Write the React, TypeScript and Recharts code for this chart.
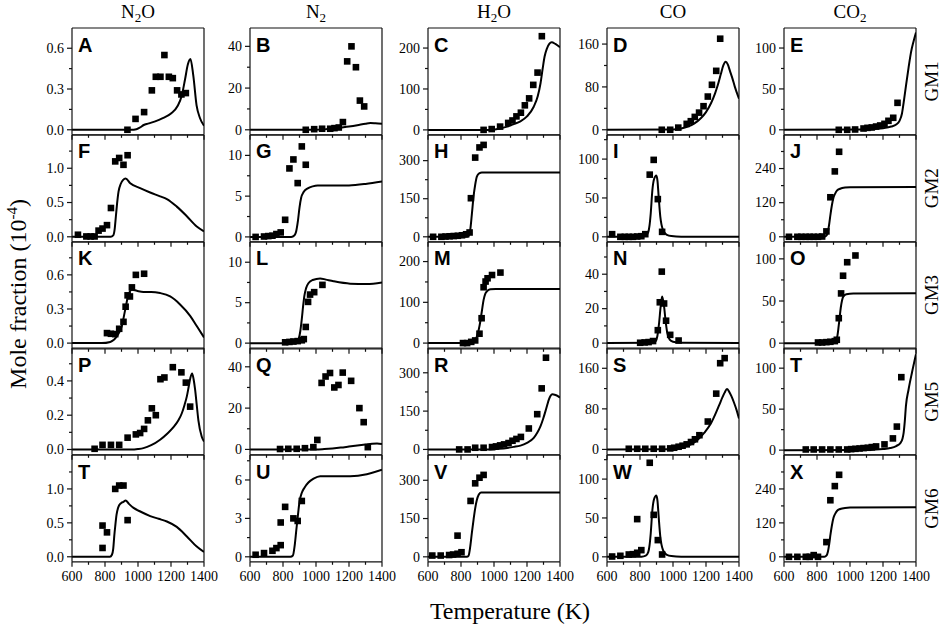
import React from 'react'
import { ComposedChart, Line, Scatter, XAxis, YAxis, ReferenceLine } from 'recharts'

type Pair = [number, number]

// column titles, row labels, x ticks
const species = ['N2O', 'N2', 'H2O', 'CO', 'CO2']
const mechanisms = ['GM1', 'GM2', 'GM3', 'GM5', 'GM6']
const xMajor = [600, 800, 1000, 1200, 1400]
const xMinor = [700, 900, 1100, 1300]

// ---- GM1 ----
const ptsA: Pair[] = [[936, 0], [985, 0.08], [1037, 0.13], [1084, 0.29], [1108, 0.39], [1136, 0.39], [1160, 0.55], [1187, 0.39], [1211, 0.38], [1237, 0.29], [1263, 0.26], [1290, 0.27]]
const lineA: Pair[] = [[600, 0], [960, 0], [990, 0.004], [1010, 0.015], [1035, 0.035], [1060, 0.045], [1100, 0.06], [1150, 0.085], [1200, 0.12], [1240, 0.175], [1265, 0.25], [1285, 0.37], [1302, 0.48], [1318, 0.52], [1335, 0.4], [1355, 0.18], [1376, 0.085], [1400, 0.03]]
const ptsB: Pair[] = [[938, 0], [989, 0.3], [1037, 0.5], [1086, 0.5], [1112, 0.8], [1138, 1.1], [1163, 3.7], [1189, 32.8], [1215, 40], [1242, 30], [1266, 14], [1292, 11.2]]
const lineB: Pair[] = [[600, 0], [1000, 0], [1050, 0.2], [1100, 0.6], [1150, 1.1], [1200, 1.6], [1250, 2.2], [1300, 2.9], [1330, 3.2], [1360, 3.1], [1400, 2.9]]
const ptsC: Pair[] = [[937, 0], [986, 2], [1037, 8], [1086, 17], [1112, 23], [1136, 33], [1163, 42], [1187, 60], [1213, 77], [1238, 110], [1264, 140], [1290, 229]]
const lineC: Pair[] = [[600, 0], [980, 0], [1030, 3], [1080, 8], [1120, 14], [1160, 21], [1200, 33], [1240, 56], [1265, 82], [1282, 114], [1295, 150], [1307, 180], [1320, 198], [1335, 210], [1350, 214], [1372, 210], [1400, 202]]
const ptsD: Pair[] = [[932, 0], [983, 0], [1032, 4], [1083, 11], [1108, 16], [1132, 24], [1158, 32], [1185, 44], [1211, 62], [1236, 84], [1262, 110], [1286, 170]]
const lineD: Pair[] = [[600, 0], [1000, 0.5], [1050, 2.5], [1090, 6], [1130, 12], [1170, 22], [1200, 33], [1231, 50], [1255, 68], [1272, 84], [1290, 104], [1305, 120], [1319, 127], [1332, 122], [1345, 110], [1360, 96], [1375, 80], [1400, 58]]
const ptsE: Pair[] = [[932, 0], [983, 0], [1031, 0.4], [1082, 1.6], [1106, 2.4], [1132, 2.9], [1158, 4], [1183, 5.3], [1209, 7.3], [1233, 11], [1262, 14.7], [1288, 33]]
const lineE: Pair[] = [[600, 0], [1100, 0.3], [1150, 1], [1200, 2], [1250, 4], [1280, 6.5], [1300, 11], [1315, 20], [1325, 33], [1340, 55], [1355, 76], [1370, 95], [1385, 108], [1400, 119]]

// ---- GM2 ----
const ptsF: Pair[] = [[636, 0.03], [687, 0.005], [713, 0.005], [737, 0.005], [761, 0.09], [785, 0.12], [812, 0.17], [836, 0.42], [862, 1.1], [886, 1.15], [912, 1.05], [937, 1.19]]
const lineF: Pair[] = [[600, 0], [835, 0], [850, 0.02], [858, 0.1], [866, 0.3], [873, 0.48], [882, 0.66], [895, 0.77], [910, 0.83], [925, 0.85], [953, 0.78], [1013, 0.71], [1070, 0.65], [1134, 0.59], [1175, 0.55], [1235, 0.44], [1296, 0.3], [1356, 0.15], [1400, 0.08]]
const ptsG: Pair[] = [[634, 0], [685, 0.05], [711, 0.1], [736, 0.15], [760, 0.35], [786, 0.55], [813, 2.1], [839, 8.4], [863, 9.5], [889, 6.6], [914, 11.1], [938, 8.85]]
const lineG: Pair[] = [[600, 0], [850, 0], [870, 0.2], [880, 0.7], [890, 1.9], [900, 3.6], [910, 4.8], [925, 5.5], [950, 5.95], [980, 6.2], [1010, 6.3], [1100, 6.3], [1200, 6.32], [1300, 6.5], [1400, 6.8]]
const ptsH: Pair[] = [[631, 0], [681, 0], [706, 1], [731, 2], [756, 3], [781, 4], [806, 6], [831, 10], [852, 17], [860, 152], [886, 312], [912, 352], [937, 362]]
const lineH: Pair[] = [[600, 0], [835, 0], [846, 4], [856, 27], [866, 90], [876, 158], [886, 205], [896, 237], [910, 250], [927, 253], [1400, 253]]
const ptsI: Pair[] = [[631, 3.4], [681, 0], [708, 0], [732, 0], [757, 0], [783, 0.4], [808, 0.8], [832, 3.4], [859, 80], [883, 99], [908, 48.5], [934, 6.4]]
const lineI: Pair[] = [[600, 0], [810, 0.2], [835, 1.5], [850, 6], [858, 15], [865, 30], [875, 60], [885, 74], [899, 79], [906, 72], [913, 52], [918, 38], [923, 26], [930, 16], [939, 9], [950, 5], [963, 2.6], [990, 1], [1050, 0.2], [1400, 0]]
const ptsJ: Pair[] = [[630, 0], [681, 0], [705, 0], [732, 0], [756, 0], [780, 0], [806, 0], [831, 1], [857, 19], [881, 139], [908, 230], [934, 299]]
const lineJ: Pair[] = [[600, 0], [845, 0], [858, 5], [866, 18], [874, 45], [882, 80], [890, 110], [900, 138], [910, 152], [922, 163], [940, 169], [970, 173], [1000, 174], [1400, 175]]

// ---- GM3 ----
const ptsK: Pair[] = [[812, 0.088], [836, 0.082], [862, 0.079], [886, 0.126], [912, 0.187], [925, 0.32], [937, 0.42], [951, 0.41], [963, 0.49], [987, 0.6], [1037, 0.61]]
const lineK: Pair[] = [[600, 0], [780, 0], [832, 0.01], [872, 0.06], [902, 0.15], [922, 0.29], [943, 0.43], [963, 0.47], [993, 0.46], [1033, 0.45], [1080, 0.45], [1134, 0.44], [1195, 0.41], [1255, 0.34], [1316, 0.24], [1356, 0.15], [1400, 0.05]]
const ptsL: Pair[] = [[813, 0.1], [839, 0.15], [863, 0.2], [889, 0.25], [914, 0.35], [926, 0.5], [938, 2], [952, 5.1], [964, 6], [989, 6.3], [1039, 7.2]]
const lineL: Pair[] = [[600, 0], [870, 0], [885, 0.15], [895, 0.5], [905, 1.5], [914, 3], [922, 4.6], [930, 5.9], [940, 6.8], [954, 7.4], [980, 7.8], [1025, 8], [1060, 7.85], [1106, 7.65], [1207, 7.35], [1308, 7.3], [1400, 7.5]]
const ptsM: Pair[] = [[812, 0], [837, 0], [862, 3], [886, 6.5], [912, 23], [925, 61], [937, 137], [949, 151], [961, 159], [988, 167], [1039, 173]]
const lineM: Pair[] = [[600, 0], [860, 0], [875, 2], [887, 7], [896, 16], [907, 32], [917, 53], [927, 80], [937, 106], [947, 121], [957, 127], [978, 132], [1010, 133], [1400, 133]]
const ptsN: Pair[] = [[801, 0.2], [828, 0.4], [852, 0.6], [879, 1.2], [908, 7.5], [920, 23.7], [932, 41.5], [946, 23], [958, 13], [983, 4.8], [1034, 1.5]]
const lineN: Pair[] = [[600, 0], [880, 0.2], [895, 1], [905, 4], [915, 11], [925, 21], [934, 27], [945, 22], [955, 13], [965, 6], [980, 2], [1000, 0.8], [1050, 0.2], [1400, 0]]
const ptsO: Pair[] = [[806, 0.8], [831, 0.8], [857, 1.2], [881, 1.6], [908, 2.4], [920, 4], [932, 29.6], [946, 59], [958, 80], [983, 96], [1033, 104]]
const lineO: Pair[] = [[600, 0], [895, 0], [908, 1], [916, 3], [923, 8], [930, 18], [937, 30], [944, 42], [952, 51], [962, 56], [978, 58], [1020, 59], [1400, 59.3]]

// ---- GM5 ----
const ptsP: Pair[] = [[737, 0.004], [785, 0.027], [836, 0.027], [886, 0.027], [937, 0.069], [987, 0.088], [1013, 0.096], [1037, 0.12], [1060, 0.17], [1084, 0.24], [1108, 0.2], [1136, 0.41], [1160, 0.42], [1211, 0.48], [1263, 0.45], [1290, 0.39], [1316, 0.25]]
const lineP: Pair[] = [[600, 0], [960, 0], [1000, 0.003], [1033, 0.008], [1080, 0.025], [1134, 0.057], [1180, 0.095], [1215, 0.13], [1245, 0.17], [1265, 0.21], [1282, 0.26], [1296, 0.31], [1308, 0.37], [1318, 0.42], [1328, 0.443], [1337, 0.41], [1346, 0.35], [1356, 0.26], [1366, 0.17], [1386, 0.076], [1400, 0.047]]
const ptsQ: Pair[] = [[782, 0.2], [832, 0.3], [883, 0.3], [933, 0.6], [984, 1.1], [1008, 4.6], [1034, 32.2], [1058, 35.3], [1085, 37], [1111, 30], [1136, 31.2], [1162, 37.2], [1213, 33.2], [1263, 20], [1289, 13.2], [1314, 1.1]]
const lineQ: Pair[] = [[600, 0], [1000, 0], [1050, 0.2], [1100, 0.5], [1150, 0.9], [1200, 1.4], [1250, 1.9], [1300, 2.4], [1340, 2.8], [1370, 2.9], [1400, 2.6]]
const ptsR: Pair[] = [[789, 0], [840, 0], [886, 6.6], [937, 6.6], [988, 9.2], [1012, 11.8], [1037, 15.8], [1061, 19.7], [1088, 25], [1112, 34], [1136, 41], [1163, 49], [1211, 82], [1262, 138], [1289, 239], [1315, 359]]
const lineR: Pair[] = [[600, 0], [980, 0], [1030, 2.5], [1080, 6], [1120, 10], [1160, 15], [1200, 26], [1241, 45], [1262, 65], [1282, 91], [1298, 120], [1312, 150], [1323, 175], [1333, 196], [1343, 210], [1353, 216], [1373, 213], [1400, 203]]
const ptsS: Pair[] = [[732, 1.3], [783, 1.3], [832, 1.3], [883, 1.3], [934, 1.3], [983, 2], [1007, 3.3], [1034, 5.3], [1058, 7.3], [1083, 10], [1109, 14.6], [1133, 20], [1160, 28], [1211, 55], [1262, 110], [1286, 170], [1313, 180]]
const lineS: Pair[] = [[600, 0], [980, 0.3], [1030, 2], [1080, 6], [1115, 11], [1150, 19], [1190, 33], [1231, 52], [1260, 72], [1282, 89], [1300, 103], [1313, 112], [1327, 119], [1340, 114], [1354, 105], [1370, 92], [1384, 79], [1400, 61]]
const ptsT5: Pair[] = [[732, 0.8], [780, 0.8], [831, 0.8], [881, 0.8], [932, 0.8], [983, 0.8], [1007, 1.2], [1033, 1.6], [1058, 2], [1082, 2.5], [1108, 2.9], [1132, 3.7], [1158, 4.5], [1209, 7], [1260, 14.3], [1284, 28.7], [1311, 89]]
const lineT5: Pair[] = [[600, 0], [1100, 0.2], [1150, 0.6], [1200, 1.3], [1244, 2.5], [1280, 5], [1305, 8.6], [1318, 14], [1325, 21], [1332, 35], [1339, 54], [1355, 74], [1376, 95], [1400, 117]]

// ---- GM6 ----
const ptsT: Pair[] = [[785, 0.13], [785, 0.46], [812, 0.36], [862, 1.0], [886, 1.05], [912, 1.05], [937, 0.54]]
const lineT: Pair[] = [[600, 0], [830, 0], [842, 0.03], [850, 0.12], [856, 0.3], [862, 0.45], [870, 0.62], [882, 0.74], [897, 0.79], [912, 0.81], [925, 0.83], [945, 0.78], [973, 0.72], [1020, 0.66], [1074, 0.6], [1125, 0.56], [1175, 0.52], [1235, 0.44], [1296, 0.3], [1356, 0.15], [1400, 0.07]]
const ptsU: Pair[] = [[634, 0.16], [685, 0.29], [736, 0.47], [760, 0.68], [786, 0.91], [786, 2.68], [813, 3.9], [863, 3.0], [889, 2.8], [914, 4.36]]
const lineU: Pair[] = [[600, 0], [845, 0], [860, 0.1], [870, 0.8], [880, 2], [890, 3.2], [900, 4.3], [914, 5.0], [930, 5.4], [954, 5.8], [985, 6.1], [1025, 6.3], [1100, 6.3], [1207, 6.3], [1308, 6.45], [1400, 6.8]]
const ptsV: Pair[] = [[626, 5], [677, 5], [728, 7], [752, 9], [779, 83], [779, 12], [803, 18], [858, 219], [886, 288], [912, 310], [937, 321]]
const lineV: Pair[] = [[600, 0], [835, 0], [846, 5], [856, 40], [866, 95], [876, 145], [886, 190], [896, 223], [908, 244], [921, 252], [1400, 252]]
const ptsW: Pair[] = [[631, 0.4], [681, 1.3], [732, 3], [757, 3.4], [783, 5.2], [783, 48.5], [808, 8.6], [859, 121], [883, 54], [908, 21.5], [934, 3]]
const lineW: Pair[] = [[600, 0], [810, 0.2], [835, 1.5], [850, 6], [858, 15], [865, 30], [875, 60], [885, 74], [899, 79], [906, 72], [913, 52], [918, 38], [923, 26], [930, 16], [939, 9], [950, 5], [963, 2.6], [990, 1], [1050, 0.2], [1400, 0]]
const ptsX: Pair[] = [[630, 0], [681, 0], [732, 0], [756, 0], [780, 6], [806, 0], [857, 52], [881, 200], [908, 250], [934, 290]]
const lineX: Pair[] = [[600, 0], [845, 0], [858, 5], [866, 18], [874, 45], [882, 80], [890, 110], [900, 138], [910, 152], [922, 163], [940, 169], [970, 173], [1000, 174], [1400, 175]]

interface PanelDef {
  id: string
  pts: Pair[]
  line: Pair[]
  domain: [number, number]
  majors: number[]
  minors: number[]
  dec: number
}

const panels: PanelDef[] = [
  { id: 'A', pts: ptsA, line: lineA, domain: [-0.037, 0.749], majors: [0, 0.3, 0.6], minors: [0.15, 0.45], dec: 1 },
  { id: 'B', pts: ptsB, line: lineB, domain: [-2.4, 48.8], majors: [0, 20, 40], minors: [10, 30], dec: 0 },
  { id: 'C', pts: ptsC, line: lineC, domain: [-12, 249], majors: [0, 100, 200], minors: [50, 150], dec: 0 },
  { id: 'D', pts: ptsD, line: lineD, domain: [-9.4, 190], majors: [0, 80, 160], minors: [40, 120], dec: 0 },
  { id: 'E', pts: ptsE, line: lineE, domain: [-6.1, 124.5], majors: [0, 50, 100], minors: [25, 75], dec: 0 },
  { id: 'F', pts: ptsF, line: lineF, domain: [-0.073, 1.485], majors: [0, 0.5, 1.0], minors: [0.25, 0.75, 1.25], dec: 1 },
  { id: 'G', pts: ptsG, line: lineG, domain: [-0.6, 12.5], majors: [0, 5, 10], minors: [2.5, 7.5], dec: 0 },
  { id: 'H', pts: ptsH, line: lineH, domain: [-19.7, 401], majors: [0, 150, 300], minors: [75, 225], dec: 0 },
  { id: 'I', pts: ptsI, line: lineI, domain: [-6.4, 131], majors: [0, 50, 100], minors: [25, 75, 125], dec: 0 },
  { id: 'J', pts: ptsJ, line: lineJ, domain: [-17.6, 358], majors: [0, 120, 240], minors: [60, 180, 300], dec: 0 },
  { id: 'K', pts: ptsK, line: lineK, domain: [-0.05, 0.889], majors: [0, 0.3, 0.6], minors: [0.15, 0.45, 0.75], dec: 1 },
  { id: 'L', pts: ptsL, line: lineL, domain: [-0.7, 12.5], majors: [0, 5, 10], minors: [2.5, 7.5], dec: 0 },
  { id: 'M', pts: ptsM, line: lineM, domain: [-14, 248], majors: [0, 100, 200], minors: [50, 150], dec: 0 },
  { id: 'N', pts: ptsN, line: lineN, domain: [-3.3, 58.7], majors: [0, 20, 40], minors: [10, 30, 50], dec: 0 },
  { id: 'O', pts: ptsO, line: lineO, domain: [-6.7, 120], majors: [0, 50, 100], minors: [25, 75], dec: 0 },
  { id: 'P', pts: ptsP, line: lineP, domain: [-0.031, 0.592], majors: [0, 0.2, 0.4], minors: [0.1, 0.3, 0.5], dec: 1 },
  { id: 'Q', pts: ptsQ, line: lineQ, domain: [-2.6, 49.1], majors: [0, 20, 40], minors: [10, 30], dec: 0 },
  { id: 'R', pts: ptsR, line: lineR, domain: [-21, 397], majors: [0, 150, 300], minors: [75, 225], dec: 0 },
  { id: 'S', pts: ptsS, line: lineS, domain: [-10.6, 200], majors: [0, 80, 160], minors: [40, 120], dec: 0 },
  { id: 'T', pts: ptsT5, line: lineT5, domain: [-5.7, 124.6], majors: [0, 50, 100], minors: [25, 75], dec: 0 },
  { id: 'T', pts: ptsT, line: lineT, domain: [-0.074, 1.5], majors: [0, 0.5, 1.0], minors: [0.25, 0.75, 1.25], dec: 1 },
  { id: 'U', pts: ptsU, line: lineU, domain: [-0.39, 7.95], majors: [0, 3, 6], minors: [1.5, 4.5, 7.5], dec: 0 },
  { id: 'V', pts: ptsV, line: lineV, domain: [-19.5, 399], majors: [0, 150, 300], minors: [75, 225], dec: 0 },
  { id: 'W', pts: ptsW, line: lineW, domain: [-6.4, 131], majors: [0, 50, 100], minors: [25, 75, 125], dec: 0 },
  { id: 'X', pts: ptsX, line: lineX, domain: [-17.6, 360], majors: [0, 120, 240], minors: [60, 180, 300], dec: 0 },
]

// layout
const COL_X = [72, 250, 428, 607, 784]
const ROW_Y0 = 28
const ROW_H = 106.8
const PW = 132
const YW = 50
const MT = 4
const MR = 24
const XH = 26
const SERIF = 'Liberation Serif, Times New Roman, serif'
const INK = '#111'

const toRows = (a: Pair[]) => a.map(([t, v]) => ({ t, v }))

const Square = (props: any) => {
  const { cx, cy } = props
  if (cx == null || cy == null) return null
  return <rect x={cx - 3.3} y={cy - 3.3} width={6.6} height={6.6} fill="#000" />
}

const makeYTick = (majors: number[], dec: number) => (props: any) => {
  const { x, y, payload } = props
  const v = payload.value as number
  const major = majors.some((m) => Math.abs(m - v) < 1e-9)
  const len = major ? 5 : 3
  return (
    <g>
      <line x1={x - len} x2={x} y1={y} y2={y} stroke={INK} strokeWidth={1.2} />
      {major && (
        <text x={x - 8} y={y} dy="0.34em" textAnchor="end" fill="#000" style={{ fontFamily: SERIF, fontSize: 14 }}>
          {v.toFixed(dec)}
        </text>
      )}
    </g>
  )
}

const makeXTick = (showLabel: boolean) => (props: any) => {
  const { x, y, payload } = props
  const v = payload.value as number
  const major = xMajor.includes(v)
  const len = major ? 5 : 3
  return (
    <g>
      <line x1={x} x2={x} y1={y} y2={y + len} stroke={INK} strokeWidth={1.2} />
      {major && showLabel && (
        <text x={x} y={y + 19} textAnchor="middle" fill="#000" style={{ fontFamily: SERIF, fontSize: 14 }}>
          {v}
        </text>
      )}
    </g>
  )
}

const Panel = ({ p, row, col }: { p: PanelDef; row: number; col: number }) => {
  const plotTop = ROW_Y0 + row * ROW_H
  const yTicks = [...p.majors, ...p.minors].sort((a, b) => a - b)
  return (
    <div style={{ position: 'absolute', left: COL_X[col] - YW, top: plotTop - MT }}>
      <ComposedChart
        width={YW + PW + MR}
        height={MT + ROW_H + XH}
        margin={{ top: MT, right: MR, bottom: 0, left: 0 }}
      >
        <XAxis
          type="number"
          dataKey="t"
          domain={[600, 1400]}
          allowDataOverflow
          ticks={[...xMajor, ...xMinor].sort((a, b) => a - b)}
          interval={0}
          tickSize={0}
          tickMargin={0}
          tickLine={false}
          tick={makeXTick(row === 4)}
          height={XH}
          axisLine={{ stroke: INK, strokeWidth: 1.2 }}
        />
        <YAxis
          type="number"
          dataKey="v"
          domain={p.domain}
          allowDataOverflow
          ticks={yTicks}
          interval={0}
          tickSize={0}
          tickMargin={0}
          tickLine={false}
          tick={makeYTick(p.majors, p.dec)}
          width={YW}
          axisLine={{ stroke: INK, strokeWidth: 1.2 }}
        />
        <ReferenceLine y={p.domain[1]} stroke={INK} strokeWidth={1.2} ifOverflow="visible" />
        <ReferenceLine x={1400} stroke={INK} strokeWidth={1.2} ifOverflow="visible" />
        <Line
          data={toRows(p.line)}
          dataKey="v"
          type="monotone"
          stroke="#000"
          strokeWidth={2}
          dot={false}
          activeDot={false}
          isAnimationActive={false}
        />
        <Scatter data={toRows(p.pts)} dataKey="v" shape={Square} isAnimationActive={false} />
      </ComposedChart>
    </div>
  )
}

const Formula = ({ text, x, y }: { text: string; x: number; y: number }) => (
  <text x={x} y={y} textAnchor="middle" fill="#000" style={{ fontFamily: SERIF, fontSize: 19 }}>
    {text.split('').map((ch, i) =>
      /\d/.test(ch) ? (
        <tspan key={i} style={{ fontSize: 13 }} dy={4}>
          {ch}
        </tspan>
      ) : (
        <tspan key={i} dy={i > 0 && /\d/.test(text[i - 1]) ? -4 : 0}>
          {ch}
        </tspan>
      )
    )}
  </text>
)

export default function App() {
  return (
    <div
      style={{
        position: 'absolute',
        left: 0,
        top: 0,
        width: 941,
        height: 625,
        background: '#fff',
        overflow: 'hidden',
      }}
    >
      {panels.map((p, i) => (
        <Panel key={i} p={p} row={Math.floor(i / 5)} col={i % 5} />
      ))}
      <svg
        width={941}
        height={625}
        style={{ position: 'absolute', left: 0, top: 0, pointerEvents: 'none' }}
      >
        {species.map((s, c) => (
          <Formula key={s} text={s} x={COL_X[c] + PW / 2} y={18} />
        ))}
        {mechanisms.map((m, r) => (
          <text
            key={m}
            transform={`translate(938, ${ROW_Y0 + r * ROW_H + ROW_H / 2}) rotate(-90)`}
            textAnchor="middle"
            fill="#000"
            style={{ fontFamily: SERIF, fontSize: 19 }}
          >
            {m}
          </text>
        ))}
        {panels.map((p, i) => (
          <text
            key={'l' + i}
            x={COL_X[i % 5] + 6}
            y={ROW_Y0 + Math.floor(i / 5) * ROW_H + 23.5}
            fill="#000"
            style={{ fontFamily: 'Liberation Sans, Arial, sans-serif', fontSize: 20, fontWeight: 'bold' }}
          >
            {p.id}
          </text>
        ))}
        <text
          transform="translate(26, 294) rotate(-90)"
          textAnchor="middle"
          fill="#000"
          style={{ fontFamily: SERIF, fontSize: 24 }}
        >
          Mole fraction (10
          <tspan style={{ fontSize: 15 }} dy={-9}>
            -4
          </tspan>
          <tspan dy={9}>)</tspan>
        </text>
        <text x={510} y={619} textAnchor="middle" fill="#000" style={{ fontFamily: SERIF, fontSize: 24 }}>
          Temperature (K)
        </text>
      </svg>
    </div>
  )
}
